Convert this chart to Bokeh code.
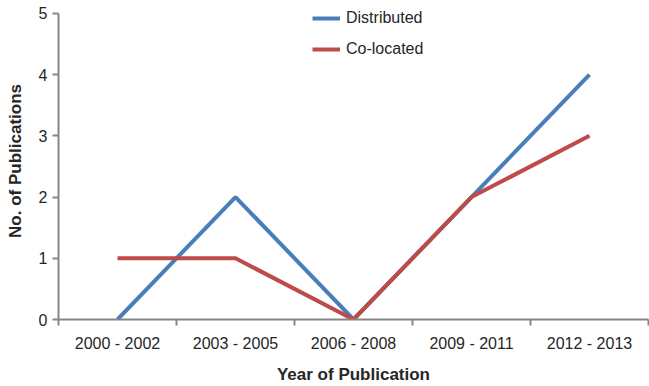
from bokeh.plotting import figure
from bokeh.models import FixedTicker, Range1d, Legend, LegendItem
from bokeh.embed import file_html
from bokeh.resources import INLINE

categories = ["2000 - 2002", "2003 - 2005", "2006 - 2008", "2009 - 2011", "2012 - 2013"]
distributed = [0, 2, 0, 2, 4]
colocated = [1, 1, 0, 2, 3]

xs = [i + 0.5 for i in range(len(categories))]

FONT = "Liberation Sans"
AXIS_COLOR = "#868686"
TEXT_COLOR = "#262626"

# frame spans y=2..322; value 5 sits at y=13
p = figure(width=649, height=386, output_backend="svg", toolbar_location=None,
           x_range=Range1d(0, len(categories)), y_range=Range1d(0, 5 + 11 * 5 / 309),
           min_border_left=58, min_border_right=1, min_border_top=2, min_border_bottom=64)
p.outline_line_color = None
p.xgrid.visible = False
p.ygrid.visible = False
p.background_fill_color = "white"

r1 = p.line(xs, distributed, line_color="#4A7EBB", line_width=4)
r2 = p.line(xs, colocated, line_color="#BE4B48", line_width=4)

legend = Legend(items=[LegendItem(label="Distributed", renderers=[r1]),
                       LegendItem(label="Co-located", renderers=[r2])],
                border_line_color=None, background_fill_alpha=0,
                label_text_font=FONT, label_text_font_size="16px", label_text_color=TEXT_COLOR,
                glyph_width=28, glyph_height=20, spacing=11, padding=0, margin=0,
                label_standoff=6, location=(254, 260))
p.add_layout(legend)

xa = p.xaxis[0]
xa.ticker = FixedTicker(ticks=xs, minor_ticks=list(range(len(categories) + 1)))
xa.major_label_overrides = {x: c for x, c in zip(xs, categories)}
xa.major_tick_out = 0
xa.major_tick_in = 0
xa.minor_tick_out = 6
xa.minor_tick_in = 0
xa.minor_tick_line_color = AXIS_COLOR
xa.axis_line_color = AXIS_COLOR
xa.axis_line_width = 2
xa.minor_tick_line_width = 2
xa.major_label_text_font = FONT
xa.major_label_text_font_size = "16px"
xa.major_label_text_color = TEXT_COLOR
xa.major_label_standoff = 9
xa.axis_label = "Year of Publication"
xa.axis_label_text_font = FONT
xa.axis_label_text_font_style = "bold"
xa.axis_label_text_font_size = "17px"
xa.axis_label_text_color = TEXT_COLOR
xa.axis_label_standoff = 10

ya = p.yaxis[0]
ya.ticker = FixedTicker(ticks=[0, 1, 2, 3, 4, 5])
ya.bounds = (0, 5)
ya.minor_tick_line_color = None
ya.major_tick_out = 6
ya.major_tick_in = 0
ya.major_tick_line_color = AXIS_COLOR
ya.major_tick_line_width = 2
ya.axis_line_color = AXIS_COLOR
ya.axis_line_width = 2
ya.major_label_text_font = FONT
ya.major_label_text_font_size = "16px"
ya.major_label_text_color = TEXT_COLOR
ya.major_label_standoff = 5
ya.axis_label = "No. of Publications"
ya.axis_label_text_font = FONT
ya.axis_label_text_font_style = "bold"
ya.axis_label_text_font_size = "17px"
ya.axis_label_text_color = TEXT_COLOR
ya.axis_label_standoff = 11

open("out.html", "w").write(file_html(p, INLINE))
